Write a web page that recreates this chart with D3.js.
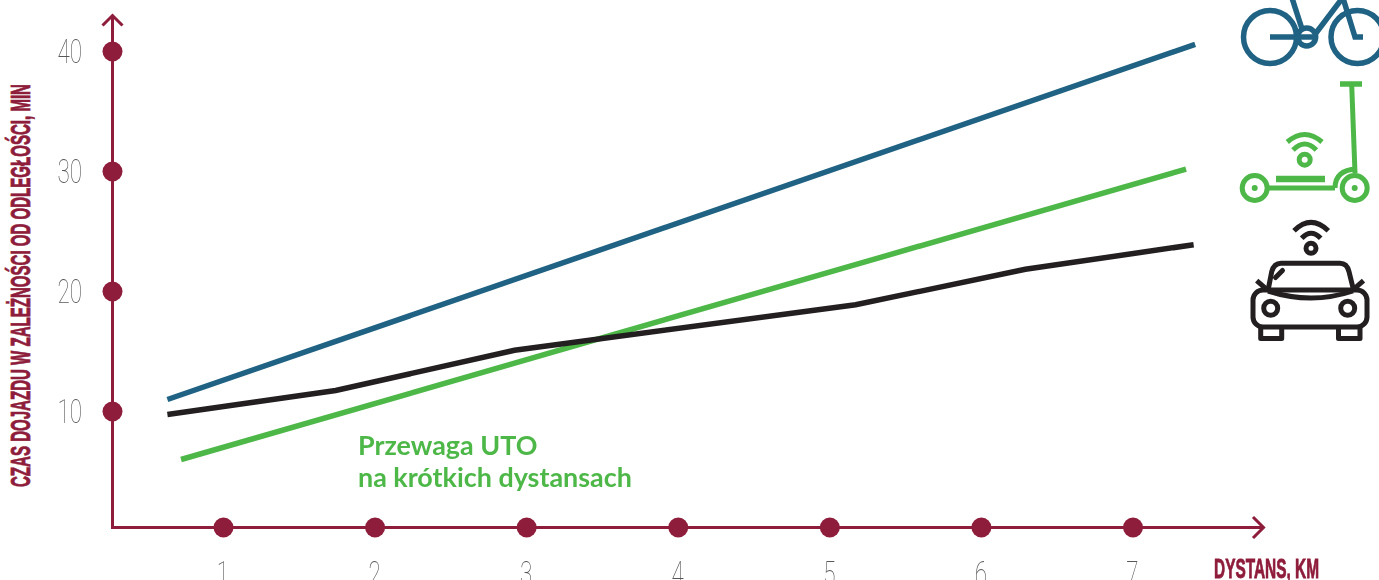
<!DOCTYPE html>
<html lang="pl">
<head>
<meta charset="utf-8">
<title>Czas dojazdu w zależności od odległości</title>
<script src="https://cdn.jsdelivr.net/npm/d3@7"></script>
<style>
  html, body { margin: 0; padding: 0; background: #fff; overflow: hidden; }
  svg { display: block; }
</style>
</head>
<body>
<div id="chart"></div>
<script>
/* Values: km on x, minutes on y */
var xTicks = [1, 2, 3, 4, 5, 6, 7];
var yTicks = [10, 20, 30, 40];

var bikeKm = [0.63, 7.41];
var bikeMin = [11, 40.6];
var scooterKm = [0.72, 7.35];
var scooterMin = [6, 30.2];
var carKm = [0.63, 1.74, 2.92, 5.17, 6.29, 7.4];
var carMin = [9.75, 11.75, 15.1, 18.9, 21.85, 23.9];

var yTitle = 'CZAS DOJAZDU W ZALEŻNOŚCI OD ODLEGŁOŚCI, MIN';
var xTitle = 'DYSTANS, KM';
var note = ['Przewaga UTO', 'na krótkich dystansach'];

var MAROON = '#8e1c3b', BLUE = '#1f6283', GREEN = '#4db848', BLACK = '#231f20', GREY = '#555';

var width = 1379, height = 580;
var svg = d3.select('#chart').append('svg').attr('width', width).attr('height', height);

var x = d3.scaleLinear().domain([1, 7]).range([223.5, 1133]);
var y = d3.scaleLinear().domain([10, 40]).range([411.5, 51.5]);

/* Axes: origin sits a bit off the zero values in the original */
var axisX = 112.5, axisY = 527.5;
var axes = svg.append('g').attr('fill', 'none').attr('stroke', MAROON).attr('stroke-width', 3);
axes.append('path').attr('d', 'M' + axisX + ',16V' + axisY + 'H1263');
axes.append('path').attr('d', 'M102.5,25.5L112.5,15.5L122.5,25.5');
axes.append('path').attr('d', 'M1253,517L1263.5,527.5L1253,538');

svg.selectAll('circle.ytick').data(yTicks).enter().append('circle')
  .attr('class', 'ytick').attr('cx', axisX).attr('cy', function (d) { return y(d); })
  .attr('r', 10).attr('fill', MAROON);
svg.selectAll('circle.xtick').data(xTicks).enter().append('circle')
  .attr('class', 'xtick').attr('cx', function (d) { return x(d); }).attr('cy', axisY)
  .attr('r', 10).attr('fill', MAROON);

/* Thin condensed numbers: no such font here, so squeeze a thin one.
   The group opacity keeps the text antialiasing grey.
   The x labels run off the bottom edge, same as in the original. */
var numbers = svg.append('g').attr('opacity', 0.99);
function thinLabel(txt, px, py, anchor) {
  numbers.append('text')
    .attr('transform', 'translate(' + px + ',' + py + ') scale(0.66,1)')
    .attr('text-anchor', anchor)
    .style('font-family', 'Roboto, "Open Sans", sans-serif')
    .style('font-weight', 100).style('font-size', '34px')
    .style('fill', GREY)
    .text(txt);
}
yTicks.forEach(function (d) { thinLabel(d, 82, y(d) + 11.5, 'end'); });
xTicks.forEach(function (d) { thinLabel(d, x(d) - 0.5, 585, 'middle'); });

/* Bold condensed axis titles */
function boldTitle(sel, txt, len) {
  sel.attr('textLength', len).attr('lengthAdjust', 'spacingAndGlyphs')
    .style('font-family', '"Liberation Sans Narrow", "Liberation Sans", sans-serif')
    .style('font-weight', 700).style('font-size', '27.5px')
    .style('fill', MAROON).style('stroke', MAROON).style('stroke-width', 0.8)
    .text(txt);
}
boldTitle(svg.append('text').attr('transform', 'translate(30,487) rotate(-90)'), yTitle, 403);
boldTitle(svg.append('text').attr('x', 1214).attr('y', 578), xTitle, 105);

/* Series */
var line = d3.line()
  .x(function (d) { return x(d[0]); })
  .y(function (d) { return y(d[1]); });

function drawSeries(kms, mins, color) {
  svg.append('path')
    .attr('d', line(d3.zip(kms, mins)))
    .attr('fill', 'none').attr('stroke', color).attr('stroke-width', 5.5);
}
drawSeries(bikeKm, bikeMin, BLUE);
drawSeries(scooterKm, scooterMin, GREEN);
drawSeries(carKm, carMin, BLACK);

/* Note */
note.forEach(function (t, i) {
  svg.append('text').attr('x', 358).attr('y', 455 + i * 32)
    .style('font-family', 'Lato, sans-serif').style('font-weight', 700)
    .style('font-size', '26.9px').style('fill', GREEN)
    .text(t);
});

/* Icons */
function wifi(g, cx, cy, r, a1, a2) {
  g.append('circle').attr('cx', cx).attr('cy', cy).attr('r', r);
  g.append('path').attr('d', a1);
  g.append('path').attr('d', a2);
}

var bike = svg.append('g').attr('fill', 'none').attr('stroke', BLUE).attr('stroke-width', 5.5);
bike.append('circle').attr('cx', 1270).attr('cy', 37).attr('r', 26.5);
bike.append('circle').attr('cx', 1357.5).attr('cy', 37).attr('r', 26.5);
bike.append('circle').attr('cx', 1306.7).attr('cy', 37).attr('r', 9);
bike.append('path').attr('d', 'M1270,37H1315');
bike.append('path').attr('d', 'M1292,-2L1302,29');
bike.append('path').attr('d', 'M1316,33L1342.5,-2');
bike.append('path').attr('d', 'M1343,-2L1355,37H1363');

var scooter = svg.append('g').attr('fill', 'none').attr('stroke', GREEN).attr('stroke-width', 5);
scooter.append('circle').attr('cx', 1254.7).attr('cy', 188).attr('r', 12.5);
scooter.append('circle').attr('cx', 1354.7).attr('cy', 188).attr('r', 12.5);
scooter.append('circle').attr('cx', 1254.7).attr('cy', 188).attr('r', 3).attr('fill', GREEN).attr('stroke', 'none');
scooter.append('circle').attr('cx', 1354.7).attr('cy', 188).attr('r', 3).attr('fill', GREEN).attr('stroke', 'none');
scooter.append('path').attr('d', 'M1340,84H1362').attr('stroke-width', 5.5);
scooter.append('path').attr('d', 'M1351.7,85L1355,173');
scooter.append('path').attr('d', 'M1267,188H1335');
scooter.append('path').attr('d', 'M1276,179H1325').attr('stroke-width', 6.5);
scooter.append('path').attr('d', 'M1335,188Q1335,170 1356.7,169');
wifi(scooter, 1304.7, 159.7, 5.5,
  'M1293,150Q1304.7,138 1316.4,150',
  'M1287.3,142Q1304.7,127 1322,142');

var car = svg.append('g').attr('fill', 'none').attr('stroke', BLACK).attr('stroke-width', 5)
  .attr('stroke-linejoin', 'round');
car.append('rect').attr('x', 1253).attr('y', 290).attr('width', 114).attr('height', 37).attr('rx', 10);
car.append('path').attr('d', 'M1268.3,289L1271.7,271.7Q1274,263.3 1281,263.3H1340Q1347,263.3 1349,271.7L1353.3,289');
car.append('path').attr('d', 'M1268,291Q1290,298 1311,298Q1332,298 1353,291');
car.append('path').attr('d', 'M1256.7,280.7L1266.7,289.3');
car.append('path').attr('d', 'M1363.5,280.7L1353.5,289.3');
car.append('path').attr('d', 'M1275.5,277.5L1282.5,270.5').attr('stroke-linecap', 'round');
car.append('circle').attr('cx', 1270.7).attr('cy', 308.3).attr('r', 7);
car.append('circle').attr('cx', 1347.7).attr('cy', 308.3).attr('r', 7);
car.append('path').attr('d', 'M1260.7,327V338.5H1281.7V327');
car.append('path').attr('d', 'M1338.5,327V338.5H1360V327');
wifi(car, 1311, 248.3, 5,
  'M1301.7,238.3Q1311,228 1320.7,238.3',
  'M1294,230.7Q1311,214 1328.3,230.7');
</script>
</body>
</html>
